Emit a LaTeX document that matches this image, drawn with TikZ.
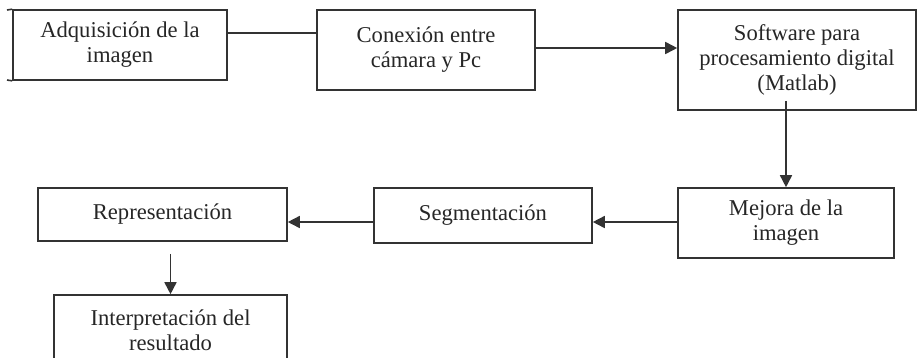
\documentclass[tikz,border=0pt]{standalone}
\usepackage{fontspec}
\setmainfont{Liberation Serif}
\usetikzlibrary{arrows.meta}
\begin{document}
\begin{tikzpicture}[x=1pt,y=-1pt,
  stage/.style={draw=black!80, line width=1.6pt, inner sep=0pt, align=center,
    text=black!85, font=\fontsize{22.6}{25}\selectfont},
  link/.style={draw=black!80, line width=1.6pt},
  flow/.style={link, -{Triangle[length=12pt,width=12pt]}}]
\useasboundingbox (0,0) rectangle (917,357);
\begin{scope}
\clip (0,0) rectangle (917,357);
% top row
\node[stage, minimum width=214pt, minimum height=70pt] (adq) at (120,45)
  {Adquisición de la\\imagen};
\node[stage, minimum width=218pt, minimum height=80pt] (con) at (426,50)
  {Conexión entre\\cámara y Pc};
\node[stage, minimum width=238pt, minimum height=100pt] (sw) at (797,60)
  {Software para\\procesamiento digital\\(Matlab)};
% short edge stubs on the left box
\draw[link] (7,10) -- (adq.north west);
\draw[link] (7,80) -- (adq.south west);
% middle row
\node[stage, minimum width=216pt, minimum height=70pt] (mej) at (786,223)
  {Mejora de la\\imagen};
\node[stage, minimum width=218pt, minimum height=55pt] (seg) at (483,215.5)
  {Segmentación};
\node[stage, minimum width=249pt, minimum height=53pt] (rep) at (162.5,214.5)
  {Representación};
% bottom
\node[stage, minimum width=233pt, minimum height=70pt] (int) at (170.5,330)
  {Interpretación del\\resultado};
% connectors
\coordinate (a1) at ([yshift=12pt]adq.east);
\draw[link] (a1) -- (a1 -| con.west);
\coordinate (c1) at ([yshift=2pt]con.east);
\draw[flow] (c1) -- (c1 -| sw.west);
\coordinate (s1) at ([yshift=10pt]sw.south);
\draw[flow] (s1 -| mej.north) -- (mej.north);
\coordinate (m1) at ([yshift=1pt]mej.west);
\draw[flow] (m1) -- (m1 -| seg.east);
\coordinate (g1) at (seg.west |- m1);
\draw[flow] (g1) -- (g1 -| rep.east);
\coordinate (r1) at ([yshift=-12pt]rep.south -| int.north);
\draw[flow] (r1) -- (int.north);
\end{scope}
\end{tikzpicture}
\end{document}
